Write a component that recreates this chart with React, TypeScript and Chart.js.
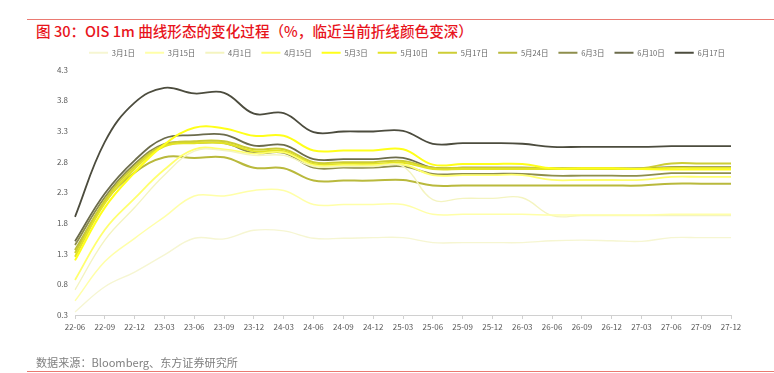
import React, { useEffect, useRef } from "react";
import { Chart, registerables } from "chart.js";

Chart.register(...registerables);

const categories = [
  "22-06", "22-09", "22-12", "23-03", "23-06", "23-09", "23-12", "24-03", "24-06", "24-09", "24-12",
  "25-03", "25-06", "25-09", "25-12", "26-03", "26-06", "26-09", "26-12", "27-03", "27-06", "27-09", "27-12",
];

const seriesNames = ["3月1日", "3月15日", "4月1日", "4月15日", "5月3日", "5月10日", "5月17日", "5月24日", "6月3日", "6月10日", "6月17日"];

const mar01 = [0.35, 0.76, 1.0, 1.28, 1.55, 1.54, 1.68, 1.67, 1.55, 1.55, 1.56, 1.56, 1.48, 1.48, 1.48, 1.48, 1.51, 1.52, 1.51, 1.5, 1.56, 1.56, 1.56];
const mar15 = [0.53, 1.17, 1.55, 1.9, 2.24, 2.24, 2.33, 2.33, 2.1, 2.1, 2.1, 2.1, 1.94, 1.94, 1.94, 1.94, 1.93, 1.93, 1.93, 1.93, 1.94, 1.94, 1.94];
const apr01 = [0.71, 1.52, 2.05, 2.58, 2.97, 2.98, 2.9, 2.9, 2.72, 2.72, 2.72, 2.72, 2.18, 2.2, 2.2, 2.21, 1.92, 1.92, 1.92, 1.92, 1.92, 1.92, 1.92];
const apr15 = [0.87, 1.69, 2.2, 2.67, 3.0, 3.0, 2.93, 2.95, 2.74, 2.74, 2.74, 2.75, 2.58, 2.58, 2.58, 2.58, 2.5, 2.5, 2.5, 2.5, 2.55, 2.55, 2.55];
const may03 = [1.19, 2.05, 2.62, 3.08, 3.35, 3.34, 3.22, 3.22, 2.98, 2.98, 2.98, 3.0, 2.75, 2.76, 2.76, 2.76, 2.69, 2.69, 2.69, 2.68, 2.67, 2.67, 2.67];
const may10 = [1.25, 2.12, 2.68, 3.05, 3.1, 3.1, 2.97, 2.97, 2.76, 2.76, 2.76, 2.78, 2.68, 2.68, 2.68, 2.68, 2.68, 2.68, 2.68, 2.68, 2.7, 2.7, 2.7];
const may17 = [1.31, 2.17, 2.72, 3.07, 3.13, 3.13, 3.0, 3.0, 2.79, 2.79, 2.79, 2.81, 2.7, 2.7, 2.7, 2.7, 2.69, 2.69, 2.69, 2.69, 2.77, 2.77, 2.77];
const may24 = [1.36, 2.14, 2.62, 2.87, 2.86, 2.87, 2.7, 2.69, 2.49, 2.49, 2.49, 2.5, 2.41, 2.41, 2.41, 2.41, 2.41, 2.41, 2.41, 2.41, 2.44, 2.44, 2.44];
const jun03 = [1.44, 2.22, 2.76, 3.09, 3.1, 3.1, 2.94, 2.94, 2.7, 2.7, 2.7, 2.72, 2.6, 2.6, 2.6, 2.6, 2.57, 2.57, 2.57, 2.57, 2.61, 2.61, 2.61];
const jun10 = [1.5, 2.28, 2.82, 3.18, 3.23, 3.24, 3.06, 3.07, 2.84, 2.84, 2.84, 2.86, 2.7, 2.7, 2.7, 2.7, 2.69, 2.69, 2.69, 2.69, 2.71, 2.71, 2.71];
const jun17 = [1.9, 3.12, 3.76, 4.0, 3.91, 3.92, 3.58, 3.59, 3.28, 3.29, 3.29, 3.3, 3.09, 3.1, 3.1, 3.09, 3.04, 3.04, 3.04, 3.04, 3.05, 3.05, 3.05];

const seriesValues = [mar01, mar15, apr01, apr15, may03, may10, may17, may24, jun03, jun10, jun17];

const yMin = 0.3;
const yMax = 4.3;
const yStep = 0.5;

const lineColors = ["#f6f6d2", "#ffffa8", "#f4f4c0", "#ffff6e", "#ffff1a", "#e3e324", "#cdcd35", "#b9b93c", "#8e8e4c", "#6c6c4c", "#4c4c3e"];
const lineWidths = [1.4, 1.5, 1.4, 1.8, 2, 2, 2, 2, 1.8, 1.8, 1.8];

const FONT = '"Noto Sans CJK SC", "Noto Sans", sans-serif';

const legendShift = {
  id: "legendShift",
  afterLayout(chart: any) {
    const lg = chart.legend;
    if (!lg) return;
    lg.left = chart.chartArea.left + 4;
    lg.right = chart.chartArea.right + 4;
    lg.top -= 3;
    lg.bottom -= 3;
  },
};

export default function App() {
  const canvasRef = useRef<HTMLCanvasElement | null>(null);

  useEffect(() => {
    document.body.style.margin = "0";
    const canvas = canvasRef.current;
    if (!canvas) return;
    const chart = new Chart(canvas, {
      type: "line",
      data: {
        labels: categories,
        datasets: seriesNames.map((name, i) => ({
          label: name,
          data: seriesValues[i],
          borderColor: lineColors[i],
          backgroundColor: lineColors[i],
          borderWidth: lineWidths[i],
          pointRadius: 0,
          tension: 0.4,
          fill: false,
        })),
      },
      options: {
        animation: false,
        responsive: false,
        maintainAspectRatio: false,
        layout: { padding: { left: 0, right: 43, top: 42, bottom: 0 } },
        plugins: {
          tooltip: { enabled: false },
          legend: {
            display: true,
            position: "top",
            labels: {
              boxWidth: 19,
              boxHeight: 2,
              padding: 10,
              color: "#666666",
              font: { family: FONT, size: 7.5 },
              generateLabels: (c: any) =>
                c.data.datasets.map((ds: any, i: number) => ({
                  text: ds.label,
                  fillStyle: ds.borderColor,
                  strokeStyle: ds.borderColor,
                  lineWidth: 0,
                  hidden: false,
                  datasetIndex: i,
                  fontColor: "#666666",
                })),
            },
          },
        },
        scales: {
          x: {
            type: "category",
            offset: false,
            grid: { display: true, drawOnChartArea: false, drawTicks: true, tickLength: 4, color: "#d0d0d0" },
            border: { display: true, color: "#d0d0d0" },
            ticks: { color: "#595959", font: { family: FONT, size: 8 }, maxRotation: 0, autoSkip: false, padding: 3 },
            afterFit: (scale: any) => {
              scale.height = 58;
            },
          },
          y: {
            min: yMin,
            max: yMax,
            grid: { display: false, drawTicks: false },
            border: { display: false },
            ticks: {
              stepSize: yStep,
              color: "#595959",
              font: { family: FONT, size: 8 },
              padding: 7,
              callback: (v: any) => Number(v).toFixed(1),
            },
            afterFit: (scale: any) => {
              scale.width = 75;
            },
          },
        },
      },
      plugins: [legendShift],
    });
    return () => chart.destroy();
  }, []);

  return (
    <div style={{ position: "fixed", left: 0, top: 0, width: 774, height: 373, background: "#fff", overflow: "hidden" }}>
      <div style={{ position: "absolute", left: 27, right: 0, top: 19, height: 0, borderTop: "1.5px solid #ea7a72" }} />
      <div
        style={{
          position: "absolute",
          left: 36,
          top: 22,
          fontFamily: FONT,
          fontSize: 14.6,
          fontWeight: 500,
          color: "#e8141c",
          whiteSpace: "nowrap",
          lineHeight: "18px",
        }}
      >
        图 30：OIS 1m 曲线形态的变化过程（%，临近当前折线颜色变深）
      </div>
      <canvas ref={canvasRef} width={774} height={373} style={{ position: "absolute", left: 0, top: 0, width: 774, height: 373 }} />
      <div
        style={{
          position: "absolute",
          left: 36,
          top: 355,
          fontFamily: FONT,
          fontSize: 11.1,
          color: "#7f7f7f",
          whiteSpace: "nowrap",
          lineHeight: "14px",
        }}
      >
        数据来源：Bloomberg、东方证券研究所
      </div>
      <div style={{ position: "absolute", left: 27, right: 0, top: 371, height: 0, borderTop: "1.5px solid #ea7a72" }} />
    </div>
  );
}
